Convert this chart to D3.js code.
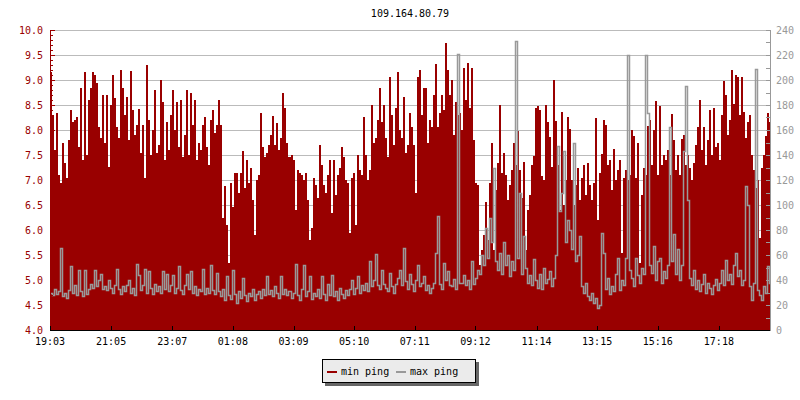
<!DOCTYPE html>
<html>
<head>
<meta charset="utf-8">
<script src="https://cdn.jsdelivr.net/npm/d3@7"></script>
<style>
  html, body { margin: 0; padding: 0; background: #fff; }
  svg { display: block; }
  text { font-family: "DejaVu Sans Mono", monospace; font-size: 10px; }
</style>
</head>
<body>
<svg id="chart" width="800" height="400"></svg>
<script>
// ---------- data ----------
const title = "109.164.80.79";
const startLabel = "19:03";
const stepMinutes = 4;
const spanMinutes = 1437;

// min ping (left axis)
const minPing = [
  9.15, 8.3, 7.6, 8.35, 7.1, 6.95, 7.75, 7.35, 7.05, 7.8,
  8.4, 8.15, 8.2, 8.25, 7.65, 8.85, 7.4, 9.15, 7.5, 8.6,
  8.85, 9.15, 9.1, 8.95, 8.05, 7.85, 8.7, 7.75, 8.7, 7.27,
  8.5, 9.1, 8.63, 8.05, 7.85, 9.2, 8.85, 8.3, 8.65, 7.8,
  9.18, 8.4, 7.9, 8.1, 8.42, 7.55, 8.1, 7.05, 9.3, 8.2,
  7.5, 8.0, 8.8, 7.55, 7.7, 9.0, 8.55, 7.4, 8.15, 7.6,
  8.3, 8.8, 8.0, 8.55, 7.65, 8.6, 7.45, 7.9, 8.8, 7.5,
  8.75, 8.1, 8.6, 7.4, 7.75, 7.6, 8.1, 8.25, 7.65, 7.3,
  8.2, 8.4, 7.95, 8.1, 8.6, 8.1, 6.25, 6.88, 6.1, 5.35,
  6.95, 6.45, 7.15, 7.15, 6.75, 7.15, 7.57, 6.85, 7.4, 6.95,
  7.25, 6.6, 5.9, 7.0, 7.1, 8.35, 7.65, 7.45, 7.55, 7.7,
  7.9, 8.28, 7.7, 8.13, 7.6, 7.85, 8.75, 8.45, 7.75, 7.45,
  7.5, 7.4, 6.4, 7.2, 7.15, 7.1, 7.0, 7.15, 6.6, 5.8,
  6.05, 7.05, 6.9, 6.65, 7.7, 7.3, 6.9, 6.75, 7.1, 7.4,
  6.35, 7.4, 6.7, 7.1, 7.25, 7.65, 7.45, 7.0, 6.95, 5.95,
  7.05, 7.15, 6.1, 7.5, 7.2, 7.1, 8.27, 7.5, 7.0, 7.2,
  8.5, 7.75, 7.85, 8.2, 8.85, 8.15, 8.5, 7.85, 7.45, 9.05,
  8.3, 7.7, 8.45, 9.17, 8.0, 7.85, 8.67, 7.55, 7.7, 8.35,
  8.05, 7.7, 6.75, 9.05, 9.2, 8.3, 8.85, 8.83, 7.75, 8.2,
  8.05, 8.7, 9.32, 8.05, 8.35, 8.7, 8.4, 9.73, 9.2, 8.7,
  9.0, 7.9, 8.55, 8.3, 8.35, 8.0, 9.23, 8.6, 9.35, 8.45,
  9.23, 7.8, 6.95, 6.9, 5.3, 5.6, 5.9, 6.55, 5.8, 6.95,
  7.75, 5.6, 6.8, 7.35, 8.5, 7.15, 7.55, 7.1, 6.6, 6.9,
  7.2, 7.75, 7.3, 7.98, 7.2, 6.65, 7.37, 5.6, 6.4, 6.7,
  7.3, 7.48, 8.45, 8.47, 8.39, 7.07, 7.0, 8.5, 8.15, 7.86,
  7.27, 9.0, 8.19, 7.3, 6.4, 8.37, 6.5, 7.0, 8.27, 8.02,
  7.0, 6.5, 6.9, 7.25, 6.6, 7.05, 7.3, 6.7, 7.35, 6.9,
  6.6, 6.95, 8.23, 6.2, 7.15, 7.53, 8.2, 8.1, 7.3, 7.4,
  6.8, 7.63, 7.0, 7.2, 7.4, 5.55, 7.05, 7.2, 7.0, 7.1,
  8.0, 7.88, 7.05, 7.75, 5.35, 6.7, 7.25, 7.1, 8.08, 8.2,
  7.3, 8.0, 8.58, 7.1, 8.48, 7.3, 7.5, 7.4, 7.6, 7.1,
  8.33, 7.8, 7.2, 7.5, 7.1, 7.83, 7.9, 7.3, 7.5, 7.25,
  7.0, 7.35, 7.7, 8.05, 8.6, 7.6, 8.05, 7.3, 7.8, 8.4,
  7.5, 8.45, 7.65, 7.75, 7.4, 8.3, 8.97, 8.7, 7.9, 8.2,
  9.2, 8.53, 9.1, 9.05, 8.3, 9.05, 8.37, 7.85, 8.15, 8.3,
  7.5, 7.2, 6.85, 7.0, 5.85, 7.25, 7.5, 7.88, 8.35, 8.15
];

// max ping (right axis)
const maxPing = [
  30, 28, 33, 29, 31, 66, 27, 30, 26, 32,
  51, 30, 36, 28, 48, 31, 27, 48, 29, 33,
  37, 34, 48, 35, 40, 45, 33, 35, 32, 40,
  34, 30, 36, 49, 33, 29, 35, 31, 36, 40,
  30, 34, 28, 53, 44, 32, 36, 49, 30, 47,
  34, 29, 37, 31, 35, 30, 47, 33, 45, 31,
  36, 44, 30, 34, 51, 32, 29, 36, 45, 33,
  47, 30, 35, 28, 33, 31, 49, 29, 34, 30,
  52, 32, 29, 46, 31, 27, 33, 24, 43, 28,
  25, 48, 29, 22, 31, 26, 42, 28, 23, 30,
  27, 33, 24, 29, 31, 26, 33, 28, 43, 29,
  32, 27, 35, 30, 26, 43, 29, 33, 28, 31,
  26, 30, 53, 28, 24, 33, 52, 27, 31, 43,
  25, 30, 27, 33, 26, 43, 29, 24, 37, 28,
  44, 27, 31, 24, 34, 29, 26, 32, 28, 33,
  40, 29, 34, 43, 30, 36, 32, 38, 31, 55,
  35, 40, 61, 36, 33, 48, 37, 34, 31, 46,
  35, 30, 37, 42, 48, 36, 66, 39, 33, 45,
  37, 31, 40, 52, 35, 38, 43, 32, 36, 30,
  34, 38, 62, 91, 37, 33, 54, 40, 47, 36,
  35, 41, 33, 221, 38, 38, 44, 36, 40, 33,
  55, 37, 42, 48, 45, 60, 52, 82, 58, 90,
  70, 130, 55, 48, 62, 45, 70, 52, 60, 43,
  55, 48, 231, 58, 110, 45, 75, 50, 38, 44,
  36, 57, 40, 34, 45, 33, 50, 38, 41, 47,
  35, 42, 60, 147, 95, 110, 143, 70, 88, 80,
  65, 150, 55, 60, 75, 35, 30, 38, 27, 24,
  30, 22, 26, 18, 20, 78, 62, 33, 42, 29,
  35, 31, 45, 58, 32, 40, 36, 58, 220, 48,
  42, 35, 58, 44, 38, 50, 45, 220, 174, 52,
  46, 67, 40, 55, 58, 38, 47, 42, 52, 162,
  55, 77, 45, 65, 40, 52, 143, 195, 104, 42,
  36, 48, 33, 40, 31, 37, 45, 30, 38, 34,
  29, 36, 41, 32, 38, 48, 36, 56, 40, 45,
  37, 52, 62, 43, 48, 36, 40, 115, 100, 35,
  24, 38, 209, 32, 28, 24, 35, 30, 51, 38
];

const timeTickLabels = ["19:03","21:05","23:07","01:08","03:09","05:10","07:11","09:12","11:14","13:15","15:16","17:18"];
const leftTickLabels = ["4.0","4.5","5.0","5.5","6.0","6.5","7.0","7.5","8.0","8.5","9.0","9.5","10.0"];
const rightTickLabels = ["0","20","40","60","80","100","120","140","160","180","200","220","240"];
const seriesNames = ["min ping", "max ping"];
const seriesColors = ["#990000", "#999999"];

// ---------- layout ----------
const M = { left: 50, right: 770, top: 30, bottom: 330 };
const svg = d3.select("#chart");

function toMin(lbl) {
  const [h, m] = lbl.split(":").map(Number);
  return h * 60 + m;
}
const start = toMin(startLabel);
const tickMinutes = timeTickLabels.map(l => ((toMin(l) - start) + 1440) % 1440);

const x = d3.scaleLinear().domain([0, spanMinutes]).range([M.left, M.right]);
const yL = d3.scaleLinear().domain([+leftTickLabels[0], +leftTickLabels[leftTickLabels.length - 1]]).range([M.bottom, M.top]);
const yR = d3.scaleLinear().domain([+rightTickLabels[0], +rightTickLabels[rightTickLabels.length - 1]]).range([M.bottom, M.top]);

// gridlines
svg.append("g").selectAll("line")
  .data(leftTickLabels.slice(1).map(Number))
  .join("line")
  .attr("x1", M.left).attr("x2", M.right)
  .attr("y1", d => Math.round(yL(d)) + 0.5).attr("y2", d => Math.round(yL(d)) + 0.5)
  .attr("stroke", "#bbbbbb").attr("stroke-width", 1);

// min ping area
const minData = minPing.map((v, i) => ({ t: i * stepMinutes, v }));
minData.push({ t: spanMinutes, v: minPing[minPing.length - 1] });
svg.append("path")
  .datum(minData)
  .attr("d", d3.area().curve(d3.curveStepAfter)
    .x(d => Math.round(x(d.t))).y0(yL(+leftTickLabels[0])).y1(d => Math.round(yL(d.v))))
  .attr("fill", seriesColors[0])
  .attr("shape-rendering", "crispEdges");

// max ping line
const maxData = maxPing.map((v, i) => ({ t: i * stepMinutes, v }));
maxData.push({ t: spanMinutes, v: maxPing[maxPing.length - 1] });
svg.append("path")
  .datum(maxData)
  .attr("d", d3.line().curve(d3.curveStepAfter)
    .x(d => Math.round(x(d.t)) + 0.5).y(d => Math.round(yR(d.v)) + 0.5))
  .attr("fill", "none")
  .attr("stroke", seriesColors[1])
  .attr("stroke-width", 1.5)
  .attr("stroke-linejoin", "miter");

// left axis
const leftMinor = d3.range(+leftTickLabels[0], +leftTickLabels[leftTickLabels.length - 1] + 0.001, 0.1);
const gL = svg.append("g");
gL.selectAll("line.minor").data(leftMinor).join("line")
  .attr("x1", M.left).attr("x2", M.left + 3)
  .attr("y1", d => Math.round(yL(d)) + 0.5).attr("y2", d => Math.round(yL(d)) + 0.5)
  .attr("stroke", "#990000");
gL.selectAll("line.major").data(leftTickLabels.map(Number)).join("line")
  .attr("x1", M.left).attr("x2", M.left + 5)
  .attr("y1", d => Math.round(yL(d)) + 0.5).attr("y2", d => Math.round(yL(d)) + 0.5)
  .attr("stroke", "#990000");
gL.append("line").attr("x1", M.left + 0.5).attr("x2", M.left + 0.5)
  .attr("y1", M.top).attr("y2", M.bottom).attr("stroke", "#990000");
gL.selectAll("text").data(leftTickLabels).join("text")
  .attr("x", M.left - 7).attr("y", d => yL(+d) + 3.5)
  .attr("text-anchor", "end").attr("fill", "#990000").text(d => d);

// right axis
const rightMinor = d3.range(+rightTickLabels[0], +rightTickLabels[rightTickLabels.length - 1] + 0.001, 10);
const gR = svg.append("g");
gR.selectAll("line").data(rightMinor).join("line")
  .attr("x1", M.right - 4).attr("x2", M.right)
  .attr("y1", d => Math.round(yR(d)) + 0.5).attr("y2", d => Math.round(yR(d)) + 0.5)
  .attr("stroke", "#999999");
gR.append("line").attr("x1", M.right + 0.5).attr("x2", M.right + 0.5)
  .attr("y1", M.top).attr("y2", M.bottom + 1).attr("stroke", "#999999");
gR.selectAll("text").data(rightTickLabels).join("text")
  .attr("x", M.right + 6).attr("y", d => yR(+d) + 3.5)
  .attr("text-anchor", "start").attr("fill", "#999999").text(d => d);

// bottom axis
const gB = svg.append("g");
gB.append("line").attr("x1", M.left).attr("x2", M.right)
  .attr("y1", M.bottom + 0.5).attr("y2", M.bottom + 0.5).attr("stroke", "#000");
gB.selectAll("line.tick").data(tickMinutes).join("line")
  .attr("x1", d => Math.round(x(d)) + 0.5).attr("x2", d => Math.round(x(d)) + 0.5)
  .attr("y1", M.bottom - 4).attr("y2", M.bottom)
  .attr("stroke", "#000");
gB.selectAll("text").data(timeTickLabels).join("text")
  .attr("x", (d, i) => x(tickMinutes[i]))
  .attr("y", 345).attr("text-anchor", "middle").attr("fill", "#000").text(d => d);

// title
svg.append("text").attr("x", (M.left + M.right) / 2).attr("y", 17)
  .attr("text-anchor", "middle").attr("fill", "#000").text(title);

// legend
const lg = svg.append("g");
lg.append("rect").attr("x", 325).attr("y", 362).attr("width", 154).attr("height", 24).attr("fill", "#666");
lg.append("rect").attr("x", 322.5).attr("y", 359.5).attr("width", 153).attr("height", 23)
  .attr("fill", "#ebebeb").attr("stroke", "#000");
const legX = [327, 396];
seriesNames.forEach((n, i) => {
  lg.append("line").attr("x1", legX[i]).attr("x2", legX[i] + 10)
    .attr("y1", 372).attr("y2", 372).attr("stroke", seriesColors[i]).attr("stroke-width", 2);
  lg.append("text").attr("x", legX[i] + 14).attr("y", 375).attr("fill", "#000").text(n);
});
</script>
</body>
</html>
